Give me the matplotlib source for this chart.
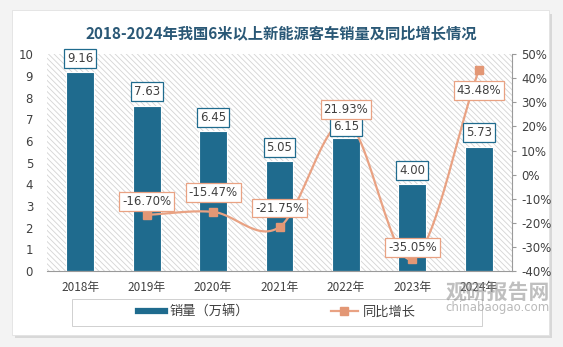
import numpy as np
import matplotlib
matplotlib.use('Agg')
import matplotlib.pyplot as plt
from matplotlib.patches import FancyBboxPatch, Rectangle
from matplotlib.lines import Line2D

plt.rcParams['font.family'] = ['DejaVu Sans', 'Noto Sans CJK SC']
plt.rcParams['hatch.linewidth'] = 0.6

# Data
years = ['2018年', '2019年', '2020年', '2021年', '2022年', '2023年', '2024年']
sales = [9.16, 7.63, 6.45, 5.05, 6.15, 4.00, 5.73]
growth = [None, -16.70, -15.47, -21.75, 21.93, -35.05, 43.48]
growth_labels = ['', '-16.70%', '-15.47%', '-21.75%', '21.93%', '-35.05%', '43.48%']

bar_color = '#1f6b8e'
line_color = '#e9a283'
marker_color = '#e39775'
title_color = '#2a5876'
text_color = '#404040'
cjk = ['Noto Sans CJK SC', 'DejaVu Sans']

fig = plt.figure(figsize=(5.63, 3.47), dpi=100)
fig.patch.set_facecolor('#f3f3f3')

# white card with a soft shadow
shadow = FancyBboxPatch((0.026, 0.025), 0.955, 0.935, boxstyle='square,pad=0',
                        transform=fig.transFigure, facecolor='#d8d8d8',
                        edgecolor='none', zorder=-3)
card = FancyBboxPatch((0.021, 0.035), 0.955, 0.935, boxstyle='square,pad=0',
                      transform=fig.transFigure, facecolor='white',
                      edgecolor='#e2e2e2', linewidth=0.6, zorder=-2)
# legend frame
legframe = Rectangle((72 / 563, 1 - 326 / 347), 410 / 563, 27 / 347,
                     transform=fig.transFigure, facecolor='white',
                     edgecolor='#d0d0d0', linewidth=0.7, zorder=-1)
fig.patches.extend([shadow, card, legframe])

ax = fig.add_axes([0.0835, 0.219, 0.826, 0.625])
ax.set_facecolor('none')
ax.add_patch(Rectangle((0, 0), 1, 1, transform=ax.transAxes, facecolor='white',
                       edgecolor='#d4d4d4', hatch='\\\\\\\\\\\\', linewidth=0,
                       zorder=0))

x = np.arange(len(years))
ax.bar(x, sales, width=0.42, color=bar_color, edgecolor='white',
       linewidth=0.8, zorder=2)
ax.set_xlim(-0.5, len(years) - 0.5)
ax.set_ylim(0, 10)
ax.set_yticks(range(0, 11))
ax.set_xticks(x)
ax.set_xticklabels(years, family=cjk)
ax.tick_params(axis='y', length=0, labelsize=8.5, labelcolor=text_color, pad=10)
ax.tick_params(axis='x', length=0, labelsize=8.5, labelcolor=text_color, pad=7)
for s in ['top', 'left', 'right']:
    ax.spines[s].set_visible(False)
ax.spines['bottom'].set_color('#9a9a9a')
ax.spines['bottom'].set_zorder(3)

ax2 = ax.twinx()
ax2.set_ylim(-40, 50)
ax2.set_yticks(range(-40, 51, 10))
ax2.set_yticklabels(['%d%%' % t for t in range(-40, 51, 10)])
ax2.tick_params(axis='y', length=3, labelsize=8.5, labelcolor=text_color,
                color='#9a9a9a')
for s in ['top', 'left', 'bottom']:
    ax2.spines[s].set_visible(False)
ax2.spines['right'].set_color('#9a9a9a')

# smoothed line (Catmull-Rom style, like Excel's smoothed line)
gx = np.array([i for i, g in enumerate(growth) if g is not None], dtype=float)
gy = np.array([g for g in growth if g is not None], dtype=float)
n = len(gx)
tang = np.zeros(n)
for i in range(n):
    a = gy[max(i - 1, 0)]
    b = gy[min(i + 1, n - 1)]
    span = gx[min(i + 1, n - 1)] - gx[max(i - 1, 0)]
    tang[i] = (b - a) / span
sx, sy = [], []
for i in range(n - 1):
    t = np.linspace(0, 1, 30)
    h00 = 2 * t**3 - 3 * t**2 + 1
    h10 = t**3 - 2 * t**2 + t
    h01 = -2 * t**3 + 3 * t**2
    h11 = t**3 - t**2
    d = gx[i + 1] - gx[i]
    sx.extend(gx[i] + t * d)
    sy.extend(h00 * gy[i] + h10 * d * tang[i] + h01 * gy[i + 1] + h11 * d * tang[i + 1])
ax2.plot(sx, sy, color=line_color, linewidth=1.6, zorder=3)
ax2.plot(gx, gy, linestyle='none', marker='s', markersize=5.5,
         color=marker_color, zorder=4)

# bar value labels, drawn on the top axes so the line does not cover them
bar_offsets = [14, 14, 14, 14, 11, 14, 14]
for xi, v, off in zip(x, sales, bar_offsets):
    ax2.annotate('%.2f' % v, (xi, v), xycoords=ax.transData, xytext=(0, off),
                 textcoords='offset pixels', ha='center', va='center',
                 fontsize=8.5, color=text_color, zorder=5,
                 bbox=dict(boxstyle='square,pad=0.25', facecolor='white',
                           edgecolor=bar_color, linewidth=0.9))

offsets = {1: 13, 2: 19, 3: 19, 4: 12, 5: 12, 6: -21}
for i, g in enumerate(growth):
    if g is None:
        continue
    ax2.annotate(growth_labels[i], (i, g), xytext=(0, offsets[i]),
                 textcoords='offset pixels', ha='center', va='center',
                 fontsize=8.5, color=text_color, zorder=6,
                 bbox=dict(boxstyle='square,pad=0.25', facecolor='white',
                           edgecolor=line_color, linewidth=0.9))

fig.text(0.5, 0.905, '2018-2024年我国6米以上新能源客车销量及同比增长情况',
         ha='center', va='center', fontsize=11, fontweight='bold',
         color=title_color, family=cjk)

handles = [Line2D([], [], color=bar_color, linewidth=4.5),
           Line2D([], [], color=line_color, linewidth=1.6, marker='s',
                  markersize=5.5, markerfacecolor=marker_color,
                  markeredgecolor=marker_color)]
leg = fig.legend(handles, ['销量（万辆）', '同比增长'], loc='center',
                 bbox_to_anchor=(277 / 563, 1 - 312.5 / 347), ncol=2,
                 frameon=False, handlelength=2.0, handletextpad=0.4,
                 columnspacing=6.2, prop={'family': cjk, 'size': 9.5})
for t in leg.get_texts():
    t.set_color(text_color)

# watermark
fig.text(0.885, 1 - 292 / 347, '观研报告网', ha='center', va='center', fontsize=15,
         fontweight='bold', color='#8c8c8c', alpha=0.55, family=cjk)
fig.text(0.883, 1 - 308 / 347, 'chinabaogao.com', ha='center', va='center',
         fontsize=8.5, color='#8c8c8c', alpha=0.6)

fig.savefig('out.png', dpi=100, facecolor=fig.get_facecolor())
